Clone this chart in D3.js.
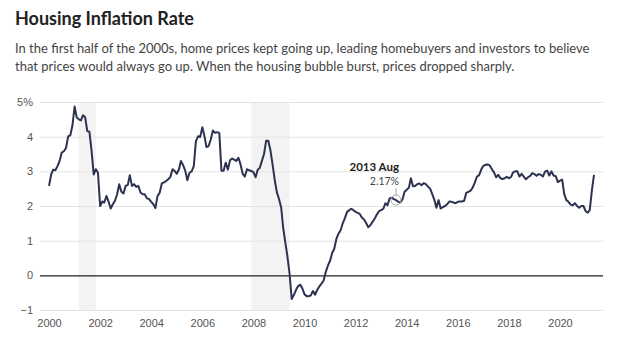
<!DOCTYPE html>
<html>
<head>
<meta charset="utf-8">
<script src="https://cdn.jsdelivr.net/npm/d3@7"></script>
<style>
  body { margin: 0; background: #fff; }
  svg { display: block; font-family: "Source Sans Pro", "Liberation Sans Narrow", Lato, sans-serif; }
</style>
</head>
<body>
<svg id="chart" width="643" height="340"></svg>
<script>
const TITLE = "Housing Inflation Rate";
const SUBTITLE = [
  "In the first half of the 2000s, home prices kept going up, leading homebuyers and investors to believe",
  "that prices would always go up. When the housing bubble burst, prices dropped sharply."
];

// year-over-year rate in %, one value per month starting Jan 2000
const FIRST_MONTH = "2000-01";
const RATES = [
  2.58, 2.91, 3.05, 3.03, 3.15, 3.30, 3.54, 3.58, 3.68, 4.01, 4.04, 4.32, // 2000
  4.87, 4.55, 4.50, 4.47, 4.62, 4.56, 4.16, 4.14, 3.58, 2.91, 3.06, 2.96, // 2001
  2.00, 2.13, 2.10, 2.29, 2.13, 1.93, 2.05, 2.15, 2.34, 2.63, 2.41, 2.36, // 2002
  2.58, 2.61, 2.89, 2.58, 2.63, 2.55, 2.58, 2.39, 2.34, 2.34, 2.22, 2.20, // 2003
  2.12, 2.05, 1.94, 2.29, 2.38, 2.65, 2.68, 2.72, 2.77, 2.84, 3.06, 3.01, // 2004
  2.93, 3.06, 3.30, 3.18, 3.02, 2.74, 2.96, 3.00, 3.15, 3.87, 4.01, 3.99, // 2005
  4.27, 4.01, 3.70, 3.73, 3.92, 4.18, 4.11, 4.13, 4.10, 3.02, 3.02, 3.25, // 2006
  3.05, 3.32, 3.37, 3.34, 3.30, 3.39, 3.20, 2.93, 2.85, 3.06, 3.03, 3.01, // 2007
  2.98, 2.83, 3.04, 3.10, 3.30, 3.50, 3.88, 3.88, 3.60, 3.20, 2.75, 2.40, // 2008
  2.20, 1.96, 1.38, 0.95, 0.55, 0.05, -0.68, -0.57, -0.42, -0.31, -0.27, -0.38, // 2009
  -0.55, -0.60, -0.60, -0.58, -0.45, -0.56, -0.42, -0.32, -0.24, -0.15, 0.10, 0.28, // 2010
  0.42, 0.65, 0.76, 1.05, 1.20, 1.30, 1.50, 1.65, 1.83, 1.88, 1.92, 1.88, // 2011
  1.83, 1.80, 1.77, 1.66, 1.61, 1.50, 1.39, 1.45, 1.55, 1.64, 1.76, 1.85, // 2012
  1.88, 1.92, 2.08, 2.02, 2.22, 2.24, 2.20, 2.17, 2.12, 2.10, 2.19, 2.41, // 2013
  2.47, 2.53, 2.80, 2.57, 2.58, 2.63, 2.65, 2.60, 2.66, 2.63, 2.56, 2.50, // 2014
  2.34, 2.17, 1.95, 2.17, 1.93, 1.97, 2.00, 2.05, 2.13, 2.12, 2.10, 2.08, // 2015
  2.12, 2.13, 2.13, 2.15, 2.38, 2.41, 2.44, 2.53, 2.68, 2.85, 2.89, 3.05, // 2016
  3.16, 3.19, 3.20, 3.17, 3.07, 2.97, 2.83, 2.90, 2.80, 2.78, 2.80, 2.84, // 2017
  2.80, 2.84, 2.97, 3.00, 3.00, 2.85, 2.93, 2.85, 2.77, 2.83, 2.87, 2.95, // 2018
  2.92, 2.87, 2.92, 2.90, 2.85, 2.99, 3.02, 2.88, 3.00, 2.88, 2.86, 2.69, // 2019
  2.73, 2.76, 2.35, 2.17, 2.12, 2.04, 2.02, 2.08, 2.00, 1.95, 2.00, 2.00, // 2020
  1.85, 1.81, 1.88, 2.45, 2.90                                            // 2021
];

const Y_TICKS = [-1, 0, 1, 2, 3, 4, 5];
const X_TICKS = [2000, 2002, 2004, 2006, 2008, 2010, 2012, 2014, 2016, 2018, 2020];
const RECESSIONS = [["2001-03", "2001-11"], ["2007-12", "2009-06"]];
const NOTE_MONTH = "2013-08";
const NOTE_LABEL = "2013 Aug";

const svg = d3.select("#chart");
const parseMonth = d3.timeParse("%Y-%m");
const start = parseMonth(FIRST_MONTH);
const points = RATES.map((v, i) => ({ date: d3.timeMonth.offset(start, i), value: v }));

// plot box; the series sits a little inside the gridlines
const plot = { left: 40, right: 603, top: 102, bottom: 310 };
const pad = 9;

const x = d3.scaleTime()
  .domain(d3.extent(points, d => d.date))
  .range([plot.left + pad, plot.right - pad]);
const y = d3.scaleLinear().domain([-1, 5]).range([plot.bottom, plot.top]);

// heading
svg.append("text")
  .attr("x", 15).attr("y", 25)
  .attr("fill", "#222")
  .style("font-size", "18px").style("font-weight", 700)
  .text(TITLE);

svg.append("g").selectAll("text")
  .data(SUBTITLE)
  .join("text")
  .attr("x", 15).attr("y", (d, i) => 53 + i * 18)
  .attr("fill", "#444")
  .style("font-size", "13px")
  .text(d => d);

// recession bands
svg.append("g").selectAll("rect")
  .data(RECESSIONS)
  .join("rect")
  .attr("x", d => x(parseMonth(d[0])))
  .attr("width", d => x(parseMonth(d[1])) - x(parseMonth(d[0])))
  .attr("y", plot.top)
  .attr("height", plot.bottom - plot.top)
  .attr("fill", "#f3f3f3");

// y gridlines + labels
const yAxis = svg.append("g")
  .attr("transform", `translate(${plot.left},0)`)
  .call(d3.axisLeft(y)
    .tickValues(Y_TICKS)
    .tickSize(-(plot.right - plot.left))
    .tickPadding(7)
    .tickFormat(d => d === 5 ? "5%" : d3.format("")(d)));
yAxis.select(".domain").remove();
yAxis.selectAll("line")
  .attr("stroke", d => d === 0 ? "#222" : "#e3e3e3")
  .attr("stroke-width", d => d === 0 ? 1.3 : 1);
yAxis.selectAll("text")
  .attr("fill", "#555")
  .style("font-size", "11px")
  .style("font-family", null);
// keep zero line on top of the bands but under the series
yAxis.selectAll(".tick").filter(d => d === 0).raise();

// x labels
const xAxis = svg.append("g")
  .attr("transform", `translate(0,${plot.bottom})`)
  .call(d3.axisBottom(x)
    .tickValues(X_TICKS.map(yr => new Date(yr, 0, 1)))
    .tickSize(0)
    .tickPadding(9)
    .tickFormat(d3.timeFormat("%Y")));
xAxis.select(".domain").remove();
xAxis.selectAll("text")
  .attr("fill", "#555")
  .style("font-size", "11px")
  .style("font-family", null);

// series
const line = d3.line()
  .x(d => x(d.date))
  .y(d => y(d.value));

svg.append("path")
  .datum(points)
  .attr("d", line)
  .attr("fill", "none")
  .attr("stroke", "#2c3351")
  .attr("stroke-width", 2)
  .attr("stroke-linejoin", "round");

// callout on Aug 2013
const noteDate = parseMonth(NOTE_MONTH);
const note = points.find(p => +p.date === +noteDate);
const nx = x(note.date), ny = y(note.value);

svg.append("line")
  .attr("x1", nx).attr("x2", nx)
  .attr("y1", ny - 12).attr("y2", ny - 5)
  .attr("stroke", "#aaa");
svg.append("circle")
  .attr("cx", nx).attr("cy", ny).attr("r", 5)
  .attr("fill", "none").attr("stroke", "#aaa");
svg.append("text")
  .attr("x", nx + 3).attr("y", ny - 29)
  .attr("text-anchor", "end")
  .attr("fill", "#222")
  .style("font-size", "11.5px").style("font-weight", 700)
  .text(NOTE_LABEL);
svg.append("text")
  .attr("x", nx + 3).attr("y", ny - 15)
  .attr("text-anchor", "end")
  .attr("fill", "#444")
  .style("font-size", "10.5px")
  .text(d3.format(".2f")(note.value) + "%");
</script>
</body>
</html>
